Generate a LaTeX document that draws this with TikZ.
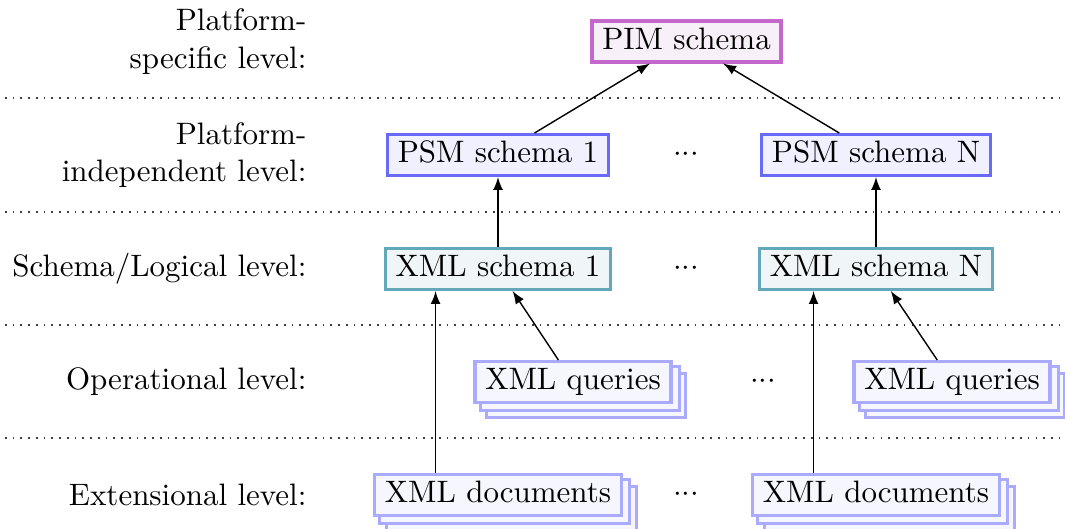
\documentclass[tikz,border=0pt]{standalone}
\usetikzlibrary{calc,arrows,backgrounds}
\definecolor{pimdraw}{HTML}{C468CC}
\definecolor{pimfill}{HTML}{F8F0F8}
\definecolor{psmdraw}{HTML}{6A6AF8}
\definecolor{psmfill}{HTML}{F0F0FF}
\definecolor{xsdraw}{HTML}{62A8BA}
\definecolor{xsfill}{HTML}{F0F6F8}
\definecolor{qdraw}{HTML}{AAAAFF}
\definecolor{qfill}{HTML}{F6F6FF}
\begin{document}
\begin{tikzpicture}[x=0.3226pt,y=-0.3226pt,
  box/.style={draw, line width=1pt, inner xsep=3.3pt, inner ysep=2.1pt, text height=7pt, text depth=2pt},
  pimbox/.style={box, draw=pimdraw, fill=pimfill},
  psmbox/.style={box, draw=psmdraw, fill=psmfill},
  xsbox/.style={box, draw=xsdraw, fill=xsfill},
  multibox/.style={box, draw=qdraw, fill=qfill},
  copybox/.style={draw=qdraw, fill=qfill, line width=1pt},
  levellabel/.style={anchor=east, align=right, inner sep=0pt},
  sep/.style={dotted, line width=0.5pt, black!75},
  arr/.style={-latex, line width=0.45pt},
  dots/.style={inner sep=0pt}]
\useasboundingbox (0,0) rectangle (1065,529);

% separators
\foreach \yy in {98,212,325,438} \draw[sep] (5,\yy) -- (1062,\yy);

% level labels
\node[levellabel] (l1) at (307,41.5) {Platform-\\specific level:};
\node[levellabel] (l2) at (307,155) {Platform-\\independent level:};
\node[levellabel] (l3) at (307,269) {Schema/Logical level:};
\node[levellabel] (l4) at (307,382) {Operational level:};
\node[levellabel] (l5) at (307,495) {Extensional level:};

% nodes
\node[pimbox] (pim) at (686.5,41.5) {PIM schema};
\node[psmbox] (psm1) at (498,155) {PSM schema 1};
\node[psmbox] (psmn) at (876,155) {PSM schema N};
\node[dots] (d2) at (686,155) {${\cdot}{\cdot}{\cdot}$};
\node[xsbox] (xs1) at (498,269) {XML schema 1};
\node[xsbox] (xsn) at (876,269) {XML schema N};
\node[dots] (d3) at (686,269) {${\cdot}{\cdot}{\cdot}$};
\node[multibox] (q1) at (573,382) {XML queries};
\node[multibox] (qn) at (952,382) {XML queries};
\node[dots] (d4) at (763,382) {${\cdot}{\cdot}{\cdot}$};
\node[multibox] (doc1) at (498,495) {XML documents};
\node[multibox] (docn) at (876,495) {XML documents};
\node[dots] (d5) at (686,495) {${\cdot}{\cdot}{\cdot}$};

% stacked copies behind the multi boxes
\begin{scope}[on background layer]
  \foreach \n in {q1,qn,doc1,docn}{
    \draw[copybox] ([shift={(4.3pt,-4.3pt)}]\n.south west) rectangle ([shift={(4.3pt,-4.3pt)}]\n.north east);
    \draw[copybox] ([shift={(2.15pt,-2.15pt)}]\n.south west) rectangle ([shift={(2.15pt,-2.15pt)}]\n.north east);
  }
\end{scope}

% connectors
\draw[arr] (psm1) -- (pim);
\draw[arr] (psmn) -- (pim);
\draw[arr] (xs1) -- (psm1);
\draw[arr] (xsn) -- (psmn);
\draw[arr] (q1) -- (xs1);
\draw[arr] (qn) -- (xsn);
\coordinate (a1) at ($(doc1.north west)!0.25!(doc1.north east)$);
\coordinate (an) at ($(docn.north west)!0.25!(docn.north east)$);
\draw[arr] (a1) -- (a1 |- xs1.south);
\draw[arr] (an) -- (an |- xsn.south);
\end{tikzpicture}
\end{document}
